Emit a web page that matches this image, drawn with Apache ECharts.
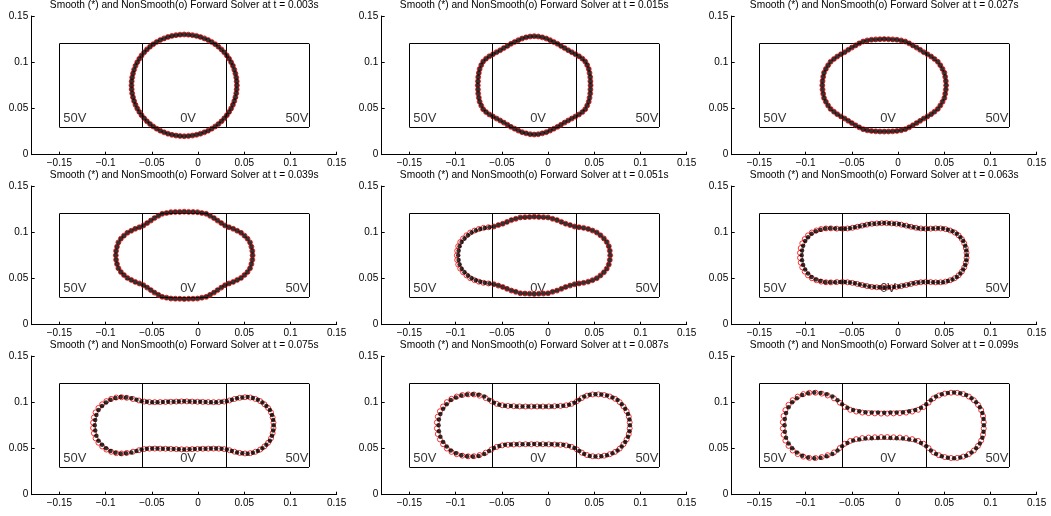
<!DOCTYPE html>
<html><head><meta charset="utf-8">
<script src="https://cdn.jsdelivr.net/npm/echarts@6/dist/echarts.min.js"></script>
<style>html,body{margin:0;padding:0;background:#fff}#c{width:1051px;height:516px}</style>
</head><body><div id="c"></div><script>
const times = ['0.003','0.015','0.027','0.039','0.051','0.063','0.075','0.087','0.099'];
const titlePrefix = 'Smooth (*) and NonSmooth(o) Forward Solver at t = ';
const xTickValues = [-0.15,-0.1,-0.05,0,0.05,0.1,0.15];
const xTickLabels = ['\u22120.15','\u22120.1','\u22120.05','0','0.05','0.1','0.15'];
const yTickValues = [0,0.05,0.1,0.15];
const yTickLabels = ['0','0.05','0.1','0.15'];
const electrodeX = [-0.15,-0.06,0.03,0.12];
const electrodeY = [0.03,0.12];
const voltageText = ['50V','0V','50V'];
const voltageX = [-0.1458,-0.0108,0.1195];
const voltageY = [0.039,0.039,0.039];

const smooth003 = [[0.0420,0.0750],[0.0418,0.0793],[0.0413,0.0836],[0.0404,0.0878],[0.0392,0.0920],[0.0377,0.0961],[0.0358,0.1000],[0.0336,0.1037],[0.0311,0.1073],[0.0283,0.1107],[0.0253,0.1139],[0.0220,0.1168],[0.0185,0.1195],[0.0148,0.1219],[0.0109,0.1240],[0.0068,0.1258],[0.0026,0.1273],[-0.0017,0.1285],[-0.0061,0.1293],[-0.0105,0.1298],[-0.0150,0.1300],
[-0.0720,0.0750],[-0.0718,0.0793],[-0.0713,0.0836],[-0.0704,0.0878],[-0.0692,0.0920],[-0.0677,0.0961],[-0.0658,0.1000],[-0.0636,0.1037],[-0.0611,0.1073],[-0.0583,0.1107],[-0.0553,0.1139],[-0.0520,0.1168],[-0.0485,0.1195],[-0.0448,0.1219],[-0.0409,0.1240],[-0.0368,0.1258],[-0.0326,0.1273],[-0.0283,0.1285],[-0.0239,0.1293],[-0.0195,0.1298],
[0.0418,0.0707],[0.0413,0.0664],[0.0404,0.0622],[0.0392,0.0580],[0.0377,0.0539],[0.0358,0.0500],[0.0336,0.0463],[0.0311,0.0427],[0.0283,0.0393],[0.0253,0.0361],[0.0220,0.0332],[0.0185,0.0305],[0.0148,0.0281],[0.0109,0.0260],[0.0068,0.0242],[0.0026,0.0227],[-0.0017,0.0215],[-0.0061,0.0207],[-0.0105,0.0202],[-0.0150,0.0200],
[-0.0718,0.0707],[-0.0713,0.0664],[-0.0704,0.0622],[-0.0692,0.0580],[-0.0677,0.0539],[-0.0658,0.0500],[-0.0636,0.0463],[-0.0611,0.0427],[-0.0583,0.0393],[-0.0553,0.0361],[-0.0520,0.0332],[-0.0485,0.0305],[-0.0448,0.0281],[-0.0409,0.0260],[-0.0368,0.0242],[-0.0326,0.0227],[-0.0283,0.0215],[-0.0239,0.0207],[-0.0195,0.0202]];

const smooth015 = [[0.0460,0.0750],[0.0458,0.0795],[0.0456,0.0839],[0.0449,0.0884],[0.0440,0.0927],[0.0423,0.0969],[0.0402,0.1008],[0.0371,0.1039],[0.0335,0.1065],[0.0296,0.1087],[0.0257,0.1109],[0.0218,0.1130],[0.0179,0.1153],[0.0140,0.1176],[0.0102,0.1199],[0.0062,0.1219],[0.0022,0.1239],[-0.0019,0.1256],[-0.0062,0.1269],[-0.0106,0.1278],[-0.0150,0.1282],
[-0.0760,0.0750],[-0.0758,0.0795],[-0.0756,0.0839],[-0.0749,0.0884],[-0.0740,0.0927],[-0.0723,0.0969],[-0.0702,0.1008],[-0.0671,0.1039],[-0.0635,0.1065],[-0.0596,0.1087],[-0.0557,0.1109],[-0.0518,0.1130],[-0.0479,0.1153],[-0.0440,0.1176],[-0.0402,0.1199],[-0.0362,0.1219],[-0.0322,0.1239],[-0.0281,0.1256],[-0.0238,0.1269],[-0.0194,0.1278],
[0.0458,0.0705],[0.0456,0.0661],[0.0449,0.0616],[0.0440,0.0573],[0.0423,0.0531],[0.0402,0.0492],[0.0371,0.0461],[0.0335,0.0435],[0.0296,0.0413],[0.0257,0.0391],[0.0218,0.0370],[0.0179,0.0347],[0.0140,0.0324],[0.0102,0.0301],[0.0062,0.0281],[0.0022,0.0261],[-0.0019,0.0244],[-0.0062,0.0231],[-0.0106,0.0222],[-0.0150,0.0218],
[-0.0758,0.0705],[-0.0756,0.0661],[-0.0749,0.0616],[-0.0740,0.0573],[-0.0723,0.0531],[-0.0702,0.0492],[-0.0671,0.0461],[-0.0635,0.0435],[-0.0596,0.0413],[-0.0557,0.0391],[-0.0518,0.0370],[-0.0479,0.0347],[-0.0440,0.0324],[-0.0402,0.0301],[-0.0362,0.0281],[-0.0322,0.0261],[-0.0281,0.0244],[-0.0238,0.0231],[-0.0194,0.0222]];

const smooth027 = [[0.0520,0.0750],[0.0517,0.0796],[0.0510,0.0842],[0.0501,0.0887],[0.0481,0.0928],[0.0457,0.0968],[0.0430,0.1005],[0.0394,0.1035],[0.0358,0.1062],[0.0318,0.1086],[0.0278,0.1109],[0.0239,0.1134],[0.0200,0.1158],[0.0160,0.1182],[0.0120,0.1204],[0.0078,0.1224],[0.0034,0.1236],[-0.0012,0.1243],[-0.0058,0.1247],[-0.0104,0.1249],[-0.0150,0.1250],
[-0.0820,0.0750],[-0.0817,0.0796],[-0.0810,0.0842],[-0.0801,0.0887],[-0.0781,0.0928],[-0.0757,0.0968],[-0.0730,0.1005],[-0.0694,0.1035],[-0.0658,0.1062],[-0.0618,0.1086],[-0.0578,0.1109],[-0.0539,0.1134],[-0.0500,0.1158],[-0.0460,0.1182],[-0.0420,0.1204],[-0.0378,0.1224],[-0.0334,0.1236],[-0.0288,0.1243],[-0.0242,0.1247],[-0.0196,0.1249],
[0.0517,0.0704],[0.0510,0.0658],[0.0501,0.0613],[0.0481,0.0572],[0.0457,0.0532],[0.0430,0.0495],[0.0394,0.0465],[0.0358,0.0438],[0.0318,0.0414],[0.0278,0.0391],[0.0239,0.0366],[0.0200,0.0342],[0.0160,0.0318],[0.0120,0.0296],[0.0078,0.0276],[0.0034,0.0264],[-0.0012,0.0257],[-0.0058,0.0253],[-0.0104,0.0251],[-0.0150,0.0250],
[-0.0817,0.0704],[-0.0810,0.0658],[-0.0801,0.0613],[-0.0781,0.0572],[-0.0757,0.0532],[-0.0730,0.0495],[-0.0694,0.0465],[-0.0658,0.0438],[-0.0618,0.0414],[-0.0578,0.0391],[-0.0539,0.0366],[-0.0500,0.0342],[-0.0460,0.0318],[-0.0420,0.0296],[-0.0378,0.0276],[-0.0334,0.0264],[-0.0288,0.0257],[-0.0242,0.0253],[-0.0196,0.0251]];

const smooth039 = [[0.0590,0.0750],[0.0587,0.0798],[0.0577,0.0844],[0.0562,0.0890],[0.0535,0.0930],[0.0502,0.0963],[0.0465,0.0994],[0.0423,0.1016],[0.0380,0.1037],[0.0335,0.1054],[0.0291,0.1073],[0.0251,0.1099],[0.0211,0.1126],[0.0172,0.1153],[0.0130,0.1177],[0.0088,0.1199],[0.0041,0.1208],[-0.0006,0.1217],[-0.0054,0.1219],[-0.0102,0.1220],[-0.0150,0.1222],
[-0.0890,0.0750],[-0.0887,0.0798],[-0.0877,0.0844],[-0.0862,0.0890],[-0.0835,0.0930],[-0.0802,0.0963],[-0.0765,0.0994],[-0.0723,0.1016],[-0.0680,0.1037],[-0.0635,0.1054],[-0.0591,0.1073],[-0.0551,0.1099],[-0.0511,0.1126],[-0.0472,0.1153],[-0.0430,0.1177],[-0.0388,0.1199],[-0.0341,0.1208],[-0.0294,0.1217],[-0.0246,0.1219],[-0.0198,0.1220],
[0.0587,0.0702],[0.0577,0.0656],[0.0562,0.0610],[0.0535,0.0570],[0.0502,0.0537],[0.0465,0.0506],[0.0423,0.0484],[0.0380,0.0463],[0.0335,0.0446],[0.0291,0.0427],[0.0251,0.0401],[0.0211,0.0374],[0.0172,0.0347],[0.0130,0.0323],[0.0088,0.0301],[0.0041,0.0292],[-0.0006,0.0283],[-0.0054,0.0281],[-0.0102,0.0280],[-0.0150,0.0278],
[-0.0887,0.0702],[-0.0877,0.0656],[-0.0862,0.0610],[-0.0835,0.0570],[-0.0802,0.0537],[-0.0765,0.0506],[-0.0723,0.0484],[-0.0680,0.0463],[-0.0635,0.0446],[-0.0591,0.0427],[-0.0551,0.0401],[-0.0511,0.0374],[-0.0472,0.0347],[-0.0430,0.0323],[-0.0388,0.0301],[-0.0341,0.0292],[-0.0294,0.0283],[-0.0246,0.0281],[-0.0198,0.0280]];

const smooth051 = [[0.0672,0.0750],[0.0668,0.0800],[0.0657,0.0849],[0.0635,0.0894],[0.0604,0.0933],[0.0567,0.0967],[0.0527,0.0997],[0.0481,0.1018],[0.0434,0.1035],[0.0385,0.1047],[0.0335,0.1054],[0.0286,0.1062],[0.0238,0.1077],[0.0190,0.1092],[0.0144,0.1112],[0.0097,0.1131],[0.0049,0.1145],[0.0000,0.1160],[-0.0050,0.1163],[-0.0100,0.1165],[-0.0150,0.1168],
[-0.0972,0.0750],[-0.0968,0.0800],[-0.0957,0.0849],[-0.0935,0.0894],[-0.0904,0.0933],[-0.0867,0.0967],[-0.0827,0.0997],[-0.0781,0.1018],[-0.0734,0.1035],[-0.0685,0.1047],[-0.0635,0.1054],[-0.0586,0.1062],[-0.0538,0.1077],[-0.0490,0.1092],[-0.0444,0.1112],[-0.0397,0.1131],[-0.0349,0.1145],[-0.0300,0.1160],[-0.0250,0.1163],[-0.0200,0.1165],
[0.0668,0.0700],[0.0657,0.0651],[0.0635,0.0606],[0.0604,0.0567],[0.0567,0.0533],[0.0527,0.0503],[0.0481,0.0482],[0.0434,0.0465],[0.0385,0.0453],[0.0335,0.0446],[0.0286,0.0438],[0.0238,0.0423],[0.0190,0.0408],[0.0144,0.0388],[0.0097,0.0369],[0.0049,0.0355],[0.0000,0.0340],[-0.0050,0.0337],[-0.0100,0.0335],[-0.0150,0.0332],
[-0.0968,0.0700],[-0.0957,0.0651],[-0.0935,0.0606],[-0.0904,0.0567],[-0.0867,0.0533],[-0.0827,0.0503],[-0.0781,0.0482],[-0.0734,0.0465],[-0.0685,0.0453],[-0.0635,0.0446],[-0.0586,0.0438],[-0.0538,0.0423],[-0.0490,0.0408],[-0.0444,0.0388],[-0.0397,0.0369],[-0.0349,0.0355],[-0.0300,0.0340],[-0.0250,0.0337],[-0.0200,0.0335]];

const smooth063 = [[0.0743,0.0750],[0.0739,0.0803],[0.0727,0.0855],[0.0705,0.0904],[0.0674,0.0947],[0.0636,0.0984],[0.0589,0.1010],[0.0539,0.1028],[0.0487,0.1040],[0.0433,0.1042],[0.0380,0.1041],[0.0326,0.1037],[0.0273,0.1038],[0.0220,0.1043],[0.0167,0.1053],[0.0115,0.1065],[0.0062,0.1076],[0.0010,0.1088],[-0.0043,0.1093],[-0.0097,0.1096],[-0.0150,0.1100],
[-0.1043,0.0750],[-0.1039,0.0803],[-0.1027,0.0855],[-0.1005,0.0904],[-0.0974,0.0947],[-0.0936,0.0984],[-0.0889,0.1010],[-0.0839,0.1028],[-0.0787,0.1040],[-0.0733,0.1042],[-0.0680,0.1041],[-0.0626,0.1037],[-0.0573,0.1038],[-0.0520,0.1043],[-0.0467,0.1053],[-0.0415,0.1065],[-0.0362,0.1076],[-0.0310,0.1088],[-0.0257,0.1093],[-0.0203,0.1096],
[0.0739,0.0697],[0.0727,0.0645],[0.0705,0.0596],[0.0674,0.0553],[0.0636,0.0516],[0.0589,0.0490],[0.0539,0.0472],[0.0487,0.0460],[0.0433,0.0458],[0.0380,0.0459],[0.0326,0.0463],[0.0273,0.0462],[0.0220,0.0457],[0.0167,0.0447],[0.0115,0.0435],[0.0062,0.0424],[0.0010,0.0412],[-0.0043,0.0407],[-0.0097,0.0404],[-0.0150,0.0400],
[-0.1039,0.0697],[-0.1027,0.0645],[-0.1005,0.0596],[-0.0974,0.0553],[-0.0936,0.0516],[-0.0889,0.0490],[-0.0839,0.0472],[-0.0787,0.0460],[-0.0733,0.0458],[-0.0680,0.0459],[-0.0626,0.0463],[-0.0573,0.0462],[-0.0520,0.0457],[-0.0467,0.0447],[-0.0415,0.0435],[-0.0362,0.0424],[-0.0310,0.0412],[-0.0257,0.0407],[-0.0203,0.0404]];

const smooth075 = [[0.0818,0.0750],[0.0813,0.0807],[0.0800,0.0863],[0.0777,0.0916],[0.0739,0.0959],[0.0696,0.0997],[0.0647,0.1027],[0.0593,0.1045],[0.0536,0.1056],[0.0479,0.1052],[0.0422,0.1043],[0.0366,0.1027],[0.0311,0.1010],[0.0254,0.1004],[0.0196,0.1000],[0.0139,0.1001],[0.0081,0.1002],[0.0023,0.1004],[-0.0035,0.1006],[-0.0092,0.1008],[-0.0150,0.1010],
[-0.1118,0.0750],[-0.1113,0.0807],[-0.1100,0.0863],[-0.1077,0.0916],[-0.1039,0.0959],[-0.0996,0.0997],[-0.0947,0.1027],[-0.0893,0.1045],[-0.0836,0.1056],[-0.0779,0.1052],[-0.0722,0.1043],[-0.0666,0.1027],[-0.0611,0.1010],[-0.0554,0.1004],[-0.0496,0.1000],[-0.0439,0.1001],[-0.0381,0.1002],[-0.0323,0.1004],[-0.0265,0.1006],[-0.0208,0.1008],
[0.0813,0.0693],[0.0800,0.0637],[0.0777,0.0584],[0.0739,0.0541],[0.0696,0.0503],[0.0647,0.0473],[0.0593,0.0455],[0.0536,0.0444],[0.0479,0.0448],[0.0422,0.0457],[0.0366,0.0473],[0.0311,0.0490],[0.0254,0.0496],[0.0196,0.0500],[0.0139,0.0499],[0.0081,0.0498],[0.0023,0.0496],[-0.0035,0.0494],[-0.0092,0.0492],[-0.0150,0.0490],
[-0.1113,0.0693],[-0.1100,0.0637],[-0.1077,0.0584],[-0.1039,0.0541],[-0.0996,0.0503],[-0.0947,0.0473],[-0.0893,0.0455],[-0.0836,0.0444],[-0.0779,0.0448],[-0.0722,0.0457],[-0.0666,0.0473],[-0.0611,0.0490],[-0.0554,0.0496],[-0.0496,0.0500],[-0.0439,0.0499],[-0.0381,0.0498],[-0.0323,0.0496],[-0.0265,0.0494],[-0.0208,0.0492]];

const smooth087 = [[0.0885,0.0750],[0.0881,0.0813],[0.0865,0.0874],[0.0835,0.0929],[0.0797,0.0978],[0.0752,0.1023],[0.0697,0.1051],[0.0638,0.1073],[0.0576,0.1083],[0.0513,0.1086],[0.0451,0.1081],[0.0391,0.1061],[0.0338,0.1028],[0.0285,0.0994],[0.0227,0.0972],[0.0165,0.0961],[0.0102,0.0958],[0.0039,0.0955],[-0.0024,0.0954],[-0.0087,0.0954],[-0.0150,0.0953],
[-0.1185,0.0750],[-0.1181,0.0813],[-0.1165,0.0874],[-0.1135,0.0929],[-0.1097,0.0978],[-0.1052,0.1023],[-0.0997,0.1051],[-0.0938,0.1073],[-0.0876,0.1083],[-0.0813,0.1086],[-0.0751,0.1081],[-0.0691,0.1061],[-0.0638,0.1028],[-0.0585,0.0994],[-0.0527,0.0972],[-0.0465,0.0961],[-0.0402,0.0958],[-0.0339,0.0955],[-0.0276,0.0954],[-0.0213,0.0954],
[0.0881,0.0687],[0.0865,0.0626],[0.0835,0.0571],[0.0797,0.0522],[0.0752,0.0477],[0.0697,0.0449],[0.0638,0.0427],[0.0576,0.0417],[0.0513,0.0414],[0.0451,0.0419],[0.0391,0.0439],[0.0338,0.0472],[0.0285,0.0506],[0.0227,0.0528],[0.0165,0.0539],[0.0102,0.0542],[0.0039,0.0545],[-0.0024,0.0546],[-0.0087,0.0546],[-0.0150,0.0547],
[-0.1181,0.0687],[-0.1165,0.0626],[-0.1135,0.0571],[-0.1097,0.0522],[-0.1052,0.0477],[-0.0997,0.0449],[-0.0938,0.0427],[-0.0876,0.0417],[-0.0813,0.0414],[-0.0751,0.0419],[-0.0691,0.0439],[-0.0638,0.0472],[-0.0585,0.0506],[-0.0527,0.0528],[-0.0465,0.0539],[-0.0402,0.0542],[-0.0339,0.0545],[-0.0276,0.0546],[-0.0213,0.0546]];

const smooth099 = [[0.0928,0.0750],[0.0925,0.0818],[0.0912,0.0884],[0.0885,0.0945],[0.0845,0.0999],[0.0795,0.1044],[0.0737,0.1078],[0.0673,0.1098],[0.0606,0.1106],[0.0539,0.1100],[0.0473,0.1085],[0.0411,0.1061],[0.0355,0.1022],[0.0305,0.0977],[0.0248,0.0940],[0.0186,0.0915],[0.0120,0.0902],[0.0053,0.0893],[-0.0015,0.0890],[-0.0083,0.0888],[-0.0150,0.0885],
[-0.1228,0.0750],[-0.1225,0.0818],[-0.1212,0.0884],[-0.1185,0.0945],[-0.1145,0.0999],[-0.1095,0.1044],[-0.1037,0.1078],[-0.0973,0.1098],[-0.0906,0.1106],[-0.0839,0.1100],[-0.0773,0.1085],[-0.0711,0.1061],[-0.0655,0.1022],[-0.0605,0.0977],[-0.0548,0.0940],[-0.0486,0.0915],[-0.0420,0.0902],[-0.0353,0.0893],[-0.0285,0.0890],[-0.0217,0.0888],
[0.0925,0.0682],[0.0912,0.0616],[0.0885,0.0555],[0.0845,0.0501],[0.0795,0.0456],[0.0737,0.0422],[0.0673,0.0402],[0.0606,0.0394],[0.0539,0.0400],[0.0473,0.0415],[0.0411,0.0439],[0.0355,0.0478],[0.0305,0.0523],[0.0248,0.0560],[0.0186,0.0585],[0.0120,0.0598],[0.0053,0.0607],[-0.0015,0.0610],[-0.0083,0.0612],[-0.0150,0.0615],
[-0.1225,0.0682],[-0.1212,0.0616],[-0.1185,0.0555],[-0.1145,0.0501],[-0.1095,0.0456],[-0.1037,0.0422],[-0.0973,0.0402],[-0.0906,0.0394],[-0.0839,0.0400],[-0.0773,0.0415],[-0.0711,0.0439],[-0.0655,0.0478],[-0.0605,0.0523],[-0.0548,0.0560],[-0.0486,0.0585],[-0.0420,0.0598],[-0.0353,0.0607],[-0.0285,0.0610],[-0.0217,0.0612]];

// NonSmooth solver: indistinguishable from the smooth one at early times
const nonsmooth003 = smooth003;
const nonsmooth015 = smooth015;
const nonsmooth027 = smooth027;
const nonsmooth039 = smooth039;

const nonsmooth051 = [[0.0672,0.0750],[0.0668,0.0800],[0.0657,0.0849],[0.0635,0.0894],[0.0604,0.0933],[0.0567,0.0967],[0.0527,0.0997],[0.0481,0.1018],[0.0434,0.1035],[0.0385,0.1047],[0.0335,0.1054],[0.0286,0.1062],[0.0238,0.1077],[0.0190,0.1092],[0.0144,0.1112],[0.0097,0.1131],[0.0049,0.1145],[0.0000,0.1160],[-0.0050,0.1163],[-0.0100,0.1165],[-0.0150,0.1168],
[-0.0987,0.0750],[-0.0983,0.0800],[-0.0972,0.0849],[-0.0950,0.0894],[-0.0919,0.0933],[-0.0882,0.0967],[-0.0842,0.0997],[-0.0796,0.1018],[-0.0749,0.1035],[-0.0700,0.1047],[-0.0645,0.1054],[-0.0586,0.1062],[-0.0538,0.1077],[-0.0490,0.1092],[-0.0444,0.1112],[-0.0397,0.1131],[-0.0349,0.1145],[-0.0300,0.1160],[-0.0250,0.1163],[-0.0200,0.1165],
[0.0668,0.0700],[0.0657,0.0651],[0.0635,0.0606],[0.0604,0.0567],[0.0567,0.0533],[0.0527,0.0503],[0.0481,0.0482],[0.0434,0.0465],[0.0385,0.0453],[0.0335,0.0446],[0.0286,0.0438],[0.0238,0.0423],[0.0190,0.0408],[0.0144,0.0388],[0.0097,0.0369],[0.0049,0.0355],[0.0000,0.0340],[-0.0050,0.0337],[-0.0100,0.0335],[-0.0150,0.0332],
[-0.0983,0.0700],[-0.0972,0.0651],[-0.0950,0.0606],[-0.0919,0.0567],[-0.0882,0.0533],[-0.0842,0.0503],[-0.0796,0.0482],[-0.0749,0.0465],[-0.0700,0.0453],[-0.0645,0.0446],[-0.0586,0.0438],[-0.0538,0.0423],[-0.0490,0.0408],[-0.0444,0.0388],[-0.0397,0.0369],[-0.0349,0.0355],[-0.0300,0.0340],[-0.0250,0.0337],[-0.0200,0.0335]];

const nonsmooth063 = [[0.0741,0.0777],[0.0733,0.0829],[0.0716,0.0880],[0.0690,0.0926],[0.0655,0.0966],[0.0613,0.0997],[0.0564,0.1019],[0.0513,0.1034],[0.0460,0.1041],[0.0407,0.1042],[0.0353,0.1039],[0.0300,0.1038],[0.0247,0.1041],[0.0194,0.1048],[0.0141,0.1059],[0.0089,0.1071],[0.0036,0.1082],[-0.0017,0.1091],[-0.0070,0.1095],[-0.0124,0.1098],
[-0.1061,0.0777],[-0.1053,0.0829],[-0.1036,0.0880],[-0.1010,0.0926],[-0.0975,0.0966],[-0.0933,0.0997],[-0.0884,0.1019],[-0.0833,0.1034],[-0.0780,0.1041],[-0.0727,0.1042],[-0.0663,0.1039],[-0.0600,0.1038],[-0.0547,0.1041],[-0.0494,0.1048],[-0.0441,0.1059],[-0.0389,0.1071],[-0.0336,0.1082],[-0.0283,0.1091],[-0.0230,0.1095],[-0.0176,0.1098],
[0.0741,0.0723],[0.0733,0.0671],[0.0716,0.0620],[0.0690,0.0574],[0.0655,0.0534],[0.0613,0.0503],[0.0564,0.0481],[0.0513,0.0466],[0.0460,0.0459],[0.0407,0.0458],[0.0353,0.0461],[0.0300,0.0462],[0.0247,0.0459],[0.0194,0.0452],[0.0141,0.0441],[0.0089,0.0429],[0.0036,0.0418],[-0.0017,0.0409],[-0.0070,0.0405],[-0.0124,0.0402],
[-0.1061,0.0723],[-0.1053,0.0671],[-0.1036,0.0620],[-0.1010,0.0574],[-0.0975,0.0534],[-0.0933,0.0503],[-0.0884,0.0481],[-0.0833,0.0466],[-0.0780,0.0459],[-0.0727,0.0458],[-0.0663,0.0461],[-0.0600,0.0462],[-0.0547,0.0459],[-0.0494,0.0452],[-0.0441,0.0441],[-0.0389,0.0429],[-0.0336,0.0418],[-0.0283,0.0409],[-0.0230,0.0405],[-0.0176,0.0402]];

const nonsmooth075 = [[0.0816,0.0779],[0.0807,0.0835],[0.0789,0.0890],[0.0758,0.0938],[0.0718,0.0978],[0.0672,0.1012],[0.0620,0.1036],[0.0565,0.1051],[0.0508,0.1054],[0.0451,0.1048],[0.0394,0.1035],[0.0339,0.1019],[0.0283,0.1007],[0.0225,0.1002],[0.0168,0.1001],[0.0110,0.1002],[0.0052,0.1003],[-0.0006,0.1005],[-0.0064,0.1007],[-0.0121,0.1009],
[-0.1136,0.0779],[-0.1127,0.0835],[-0.1109,0.0890],[-0.1078,0.0938],[-0.1038,0.0978],[-0.0992,0.1012],[-0.0940,0.1036],[-0.0885,0.1051],[-0.0828,0.1054],[-0.0771,0.1048],[-0.0704,0.1035],[-0.0639,0.1019],[-0.0583,0.1007],[-0.0525,0.1002],[-0.0468,0.1001],[-0.0410,0.1002],[-0.0352,0.1003],[-0.0294,0.1005],[-0.0236,0.1007],[-0.0179,0.1009],
[0.0816,0.0721],[0.0807,0.0665],[0.0789,0.0610],[0.0758,0.0562],[0.0718,0.0522],[0.0672,0.0488],[0.0620,0.0464],[0.0565,0.0449],[0.0508,0.0446],[0.0451,0.0452],[0.0394,0.0465],[0.0339,0.0481],[0.0283,0.0493],[0.0225,0.0498],[0.0168,0.0499],[0.0110,0.0498],[0.0052,0.0497],[-0.0006,0.0495],[-0.0064,0.0493],[-0.0121,0.0491],
[-0.1136,0.0721],[-0.1127,0.0665],[-0.1109,0.0610],[-0.1078,0.0562],[-0.1038,0.0522],[-0.0992,0.0488],[-0.0940,0.0464],[-0.0885,0.0449],[-0.0828,0.0446],[-0.0771,0.0452],[-0.0704,0.0465],[-0.0639,0.0481],[-0.0583,0.0493],[-0.0525,0.0498],[-0.0468,0.0499],[-0.0410,0.0498],[-0.0352,0.0497],[-0.0294,0.0495],[-0.0236,0.0493],[-0.0179,0.0491]];

const nonsmooth087 = [[0.0883,0.0782],[0.0873,0.0844],[0.0850,0.0902],[0.0816,0.0954],[0.0775,0.1001],[0.0725,0.1037],[0.0668,0.1062],[0.0607,0.1078],[0.0545,0.1085],[0.0482,0.1084],[0.0421,0.1071],[0.0365,0.1045],[0.0312,0.1011],[0.0256,0.0983],[0.0196,0.0967],[0.0134,0.0960],[0.0071,0.0957],[0.0008,0.0955],[-0.0056,0.0954],[-0.0119,0.0954],
[-0.1203,0.0782],[-0.1193,0.0844],[-0.1170,0.0902],[-0.1136,0.0954],[-0.1095,0.1001],[-0.1045,0.1037],[-0.0988,0.1062],[-0.0927,0.1078],[-0.0865,0.1085],[-0.0802,0.1084],[-0.0741,0.1071],[-0.0675,0.1045],[-0.0612,0.1011],[-0.0556,0.0983],[-0.0496,0.0967],[-0.0434,0.0960],[-0.0371,0.0957],[-0.0308,0.0955],[-0.0244,0.0954],[-0.0181,0.0954],
[0.0883,0.0718],[0.0873,0.0656],[0.0850,0.0598],[0.0816,0.0546],[0.0775,0.0499],[0.0725,0.0463],[0.0668,0.0438],[0.0607,0.0422],[0.0545,0.0415],[0.0482,0.0416],[0.0421,0.0429],[0.0365,0.0455],[0.0312,0.0489],[0.0256,0.0517],[0.0196,0.0533],[0.0134,0.0540],[0.0071,0.0543],[0.0008,0.0545],[-0.0056,0.0546],[-0.0119,0.0546],
[-0.1203,0.0718],[-0.1193,0.0656],[-0.1170,0.0598],[-0.1136,0.0546],[-0.1095,0.0499],[-0.1045,0.0463],[-0.0988,0.0438],[-0.0927,0.0422],[-0.0865,0.0415],[-0.0802,0.0416],[-0.0741,0.0429],[-0.0675,0.0455],[-0.0612,0.0489],[-0.0556,0.0517],[-0.0496,0.0533],[-0.0434,0.0540],[-0.0371,0.0543],[-0.0308,0.0545],[-0.0244,0.0546],[-0.0181,0.0546]];

const nonsmooth099 = [[0.0927,0.0784],[0.0919,0.0851],[0.0899,0.0915],[0.0865,0.0972],[0.0820,0.1022],[0.0766,0.1061],[0.0705,0.1088],[0.0640,0.1102],[0.0573,0.1103],[0.0506,0.1093],[0.0442,0.1073],[0.0383,0.1042],[0.0330,0.0995],[0.0277,0.0949],[0.0217,0.0918],[0.0153,0.0899],[0.0087,0.0888],[0.0019,0.0882],[-0.0049,0.0879],[-0.0117,0.0877],
[-0.1247,0.0784],[-0.1239,0.0851],[-0.1219,0.0915],[-0.1185,0.0972],[-0.1140,0.1022],[-0.1086,0.1061],[-0.1025,0.1088],[-0.0960,0.1102],[-0.0893,0.1103],[-0.0826,0.1093],[-0.0762,0.1073],[-0.0693,0.1042],[-0.0630,0.0995],[-0.0577,0.0949],[-0.0517,0.0918],[-0.0453,0.0899],[-0.0387,0.0888],[-0.0319,0.0882],[-0.0251,0.0879],[-0.0183,0.0877],
[0.0927,0.0716],[0.0919,0.0649],[0.0899,0.0585],[0.0865,0.0528],[0.0820,0.0478],[0.0766,0.0439],[0.0705,0.0412],[0.0640,0.0398],[0.0573,0.0397],[0.0506,0.0407],[0.0442,0.0427],[0.0383,0.0458],[0.0330,0.0505],[0.0277,0.0551],[0.0217,0.0582],[0.0153,0.0601],[0.0087,0.0612],[0.0019,0.0618],[-0.0049,0.0621],[-0.0117,0.0623],
[-0.1247,0.0716],[-0.1239,0.0649],[-0.1219,0.0585],[-0.1185,0.0528],[-0.1140,0.0478],[-0.1086,0.0439],[-0.1025,0.0412],[-0.0960,0.0398],[-0.0893,0.0397],[-0.0826,0.0407],[-0.0762,0.0427],[-0.0693,0.0458],[-0.0630,0.0505],[-0.0577,0.0551],[-0.0517,0.0582],[-0.0453,0.0601],[-0.0387,0.0612],[-0.0319,0.0618],[-0.0251,0.0621],[-0.0183,0.0623]];

const smoothSets = [smooth003,smooth015,smooth027,smooth039,smooth051,smooth063,smooth075,smooth087,smooth099];
const nonsmoothSets = [nonsmooth003,nonsmooth015,nonsmooth027,nonsmooth039,nonsmooth051,nonsmooth063,nonsmooth075,nonsmooth087,nonsmooth099];

// ---- layout / style ----
const FONT = "'Liberation Sans', Arial, Helvetica, sans-serif";
const colLeft = [31.7, 381.7, 731.7];
const rowTop = [16, 186, 356];
const plotW = 305, plotH = 138.7;
const voltageAlign = ['left','center','right'];

function pick(values, labels, v) {
  const k = values.findIndex(t => Math.abs(t - v) < 1e-9);
  return k >= 0 ? labels[k] : '';
}

const grids = [], xAxes = [], yAxes = [], titles = [], series = [];
for (let i = 0; i < 9; i++) {
  const c = i % 3, r = Math.floor(i / 3);
  grids.push({left: colLeft[c], top: rowTop[r], width: plotW, height: plotH, containLabel: false, outerBoundsMode: 'none'});
  titles.push({
    text: titlePrefix + times[i] + 's',
    left: colLeft[c] + plotW / 2, top: rowTop[r] - 16, textAlign: 'center', padding: 0,
    textStyle: {fontFamily: FONT, fontSize: 10.2, fontWeight: 'normal', color: '#000'}
  });
  xAxes.push({
    gridIndex: i, type: 'value', min: -0.18, max: 0.15,
    axisLine: {show: true, onZero: false, lineStyle: {color: '#000', width: 1}},
    axisTick: {show: true, inside: true, length: 3, customValues: xTickValues, lineStyle: {color: '#000'}},
    axisLabel: {show: true, customValues: xTickValues, margin: 4, color: '#000', fontFamily: FONT, fontSize: 10,
      formatter: v => pick(xTickValues, xTickLabels, v)},
    splitLine: {show: false}
  });
  yAxes.push({
    gridIndex: i, type: 'value', min: 0, max: 0.15, interval: 0.05,
    axisLine: {show: true, onZero: false, lineStyle: {color: '#000', width: 1}},
    axisTick: {show: true, inside: true, length: 3, lineStyle: {color: '#000'}},
    axisLabel: {show: true, margin: 3.5, color: '#000', fontFamily: FONT, fontSize: 10,
      formatter: v => pick(yTickValues, yTickLabels, v)},
    splitLine: {show: false}
  });
  const segs = [
    {coords: [[electrodeX[0], electrodeY[0]], [electrodeX[3], electrodeY[0]]]},
    {coords: [[electrodeX[0], electrodeY[1]], [electrodeX[3], electrodeY[1]]]}
  ];
  electrodeX.forEach(x => segs.push({coords: [[x, electrodeY[0]], [x, electrodeY[1]]]}));
  series.push({
    type: 'lines', coordinateSystem: 'cartesian2d', xAxisIndex: i, yAxisIndex: i, silent: true, z: 1,
    data: segs, lineStyle: {color: '#000', width: 1, opacity: 1}
  });
  series.push({
    type: 'scatter', xAxisIndex: i, yAxisIndex: i, silent: true, z: 2,
    symbolSize: 0,
    data: voltageText.map((t, k) => ({value: [voltageX[k], voltageY[k]], name: t,
      label: {align: voltageAlign[k]}})),
    label: {show: true, position: 'inside', verticalAlign: 'middle', formatter: p => p.name,
      color: '#000', fontFamily: FONT, fontSize: 13}
  });
  series.push({
    type: 'scatter', name: 'NonSmooth', xAxisIndex: i, yAxisIndex: i, silent: true, z: 3,
    data: nonsmoothSets[i], symbol: 'circle', symbolSize: 5,
    itemStyle: {color: 'rgba(0,0,0,0)', borderColor: '#ff0000', borderWidth: 1}
  });
  series.push({
    type: 'scatter', name: 'Smooth', xAxisIndex: i, yAxisIndex: i, silent: true, z: 4,
    data: smoothSets[i], symbol: 'circle', symbolSize: 4.5,
    itemStyle: {color: '#000'}
  });
}

const chart = echarts.init(document.getElementById('c'), null, {renderer: 'canvas'});
chart.setOption({
  backgroundColor: '#fff', animation: false,
  title: titles, grid: grids, xAxis: xAxes, yAxis: yAxes, series: series
});
</script></body></html>
